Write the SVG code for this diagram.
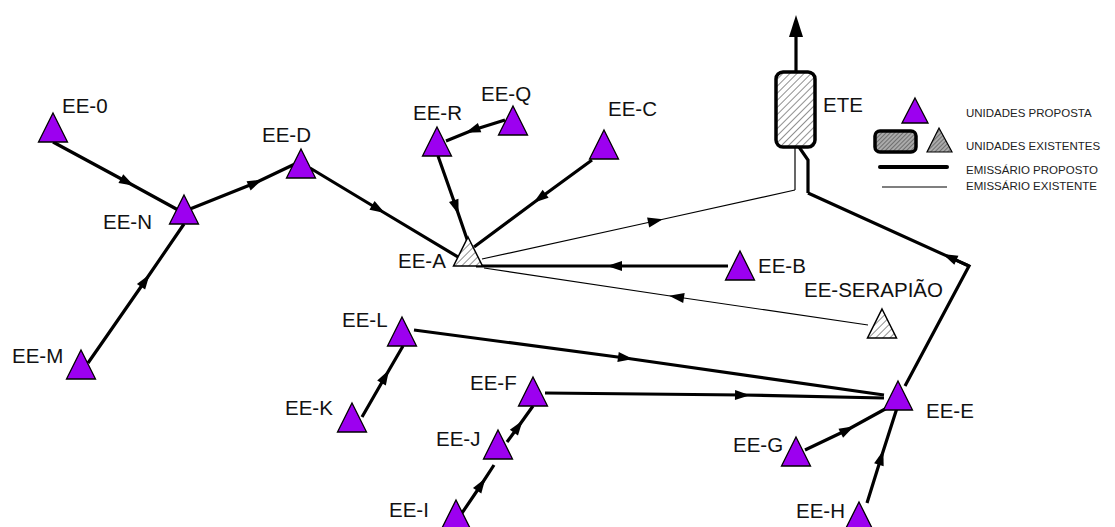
<svg xmlns="http://www.w3.org/2000/svg" width="1115" height="527" viewBox="0 0 1115 527">
<style>
  .lbl{font-family:"Liberation Sans",Arial,sans-serif;font-size:20.5px;fill:#111}
  .leg{font-family:"Liberation Sans",Arial,sans-serif;font-size:11.5px;fill:#222}
  .prop{fill:#9c00f0;stroke:#000;stroke-width:1.3;stroke-linejoin:miter}
  .exist{fill:url(#hatch);stroke:#000;stroke-width:1.5}
  .thick{fill:none;stroke:#000;stroke-width:3.2;stroke-linejoin:miter}
  .thin{fill:none;stroke:#000;stroke-width:1.2}
  .ma{marker-mid:url(#arr)}
  .mt{marker-mid:url(#arrt)}
</style>
<defs>
  <pattern id="hatch" patternUnits="userSpaceOnUse" width="5" height="5" patternTransform="rotate(45)">
    <rect width="5" height="5" fill="#fff"/>
    <line x1="0" y1="0" x2="0" y2="5" stroke="#333" stroke-width="1.1"/>
  </pattern>
  <pattern id="hatch2" patternUnits="userSpaceOnUse" width="3" height="3" patternTransform="rotate(45)">
    <rect width="3" height="3" fill="#aaa"/>
    <line x1="0" y1="0" x2="0" y2="3" stroke="#333" stroke-width="1"/>
  </pattern>
  <marker id="arr" markerUnits="userSpaceOnUse" markerWidth="16" markerHeight="12" refX="7" refY="5" orient="auto" overflow="visible">
    <path d="M0,0 L15,5 L0,10 Z" fill="#000"/>
  </marker>
  <marker id="arrt" markerUnits="userSpaceOnUse" markerWidth="16" markerHeight="12" refX="7" refY="5" orient="auto" overflow="visible">
    <path d="M0,0 L15,5 L0,10 Z" fill="#000"/>
  </marker>
  <path id="tri" d="M0,-29 L14.5,0 L-14.5,0 Z"/>
</defs>

<g id="connectors">
  <path class="thick ma" d="M53,142 L127,182 L180,211"/>
  <path class="thick ma" d="M190,209 L255,183 L297,163"/>
  <path class="thick ma" d="M310,168 L378,209 L463,260"/>
  <path class="thick ma" d="M88,363 L145,281 L184,224"/>
  <path class="thick ma" d="M438,156 L456,207 L468,242"/>
  <path class="thick ma" d="M505,120 L473,130 L446,141"/>
  <path class="thick ma" d="M592,160 L540,198 L474,247"/>
  <path class="thick ma" d="M728,266 L615,266 L476,266"/>
  <path class="thin mt" d="M482,259 L655,221 L795,190"/>
  <path class="thin" d="M795,190 L795,147"/>
  <path class="thin mt" d="M868,325 L677,297 L484,268"/>
  <path class="thick ma" d="M414,330 L625,358 L884,395"/>
  <path class="thick ma" d="M362,417 L385,377 L403,346"/>
  <path class="thick ma" d="M545,393 L742,395 L884,398"/>
  <path class="thick ma" d="M507,442 L518,427 L533,406"/>
  <path class="thick ma" d="M462,513 L481,485 L494,465"/>
  <path class="thick ma" d="M805,450 L847,430 L887,408"/>
  <path class="thick ma" d="M867,503 L881,458 L897,408"/>
  <path class="thick" d="M905,386 L969,266 L950,257.4"/>
  <path class="thick ma" d="M969,266 L950,257.4 L808,193"/>
  <path class="thick" d="M808,193 L808,160 L799,147"/>
  <path class="thick" d="M796,74 L796,34"/>
  <polygon points="796,15 789,37 803,37" fill="#000"/>
</g>

<g id="ETE">
  <rect x="776" y="72" width="39" height="75" rx="7" fill="url(#hatch)" stroke="#000" stroke-width="3.5"/>
  <text class="lbl" x="823" y="112">ETE</text>
</g>
<g id="EE-0"><use href="#tri" x="53" y="142" class="prop"/><text class="lbl" x="62" y="113">EE-0</text></g>
<g id="EE-N"><use href="#tri" x="184" y="224" class="prop"/><text class="lbl" x="103" y="229">EE-N</text></g>
<g id="EE-D"><use href="#tri" x="301" y="178" class="prop"/><text class="lbl" x="262" y="142">EE-D</text></g>
<g id="EE-M"><use href="#tri" x="81" y="379" class="prop"/><text class="lbl" x="12" y="363">EE-M</text></g>
<g id="EE-R"><use href="#tri" x="437" y="156" class="prop"/><text class="lbl" x="413" y="120">EE-R</text></g>
<g id="EE-Q"><use href="#tri" x="513" y="135" class="prop"/><text class="lbl" x="481" y="101">EE-Q</text></g>
<g id="EE-C"><use href="#tri" x="604" y="159" class="prop"/><text class="lbl" x="608" y="116">EE-C</text></g>
<g id="EE-A"><use href="#tri" x="468" y="266" class="exist"/><text class="lbl" x="398" y="268">EE-A</text></g>
<g id="EE-B"><use href="#tri" x="740" y="280" class="prop"/><text class="lbl" x="758" y="273">EE-B</text></g>
<g id="EE-SERAPIAO"><use href="#tri" x="882" y="338" class="exist"/><text class="lbl" x="804" y="297">EE-SERAPIÃO</text></g>
<g id="EE-L"><use href="#tri" x="402" y="346" class="prop"/><text class="lbl" x="342" y="327">EE-L</text></g>
<g id="EE-K"><use href="#tri" x="352" y="432" class="prop"/><text class="lbl" x="285" y="415">EE-K</text></g>
<g id="EE-F"><use href="#tri" x="533" y="406" class="prop"/><text class="lbl" x="470" y="390">EE-F</text></g>
<g id="EE-J"><use href="#tri" x="498" y="459" class="prop"/><text class="lbl" x="436" y="446">EE-J</text></g>
<g id="EE-I"><use href="#tri" x="456" y="529" class="prop"/><text class="lbl" x="389" y="517">EE-I</text></g>
<g id="EE-E"><use href="#tri" x="898" y="410" class="prop"/><text class="lbl" x="926" y="418">EE-E</text></g>
<g id="EE-G"><use href="#tri" x="796" y="466" class="prop"/><text class="lbl" x="733" y="452">EE-G</text></g>
<g id="EE-H"><use href="#tri" x="859" y="531" class="prop"/><text class="lbl" x="796" y="518">EE-H</text></g>

<g id="legend">
  <polygon points="915,98 928,123 902,123" class="prop"/>
  <text class="leg" x="966" y="117">UNIDADES PROPOSTA</text>
  <rect x="875" y="131" width="41" height="21" rx="5" fill="url(#hatch2)" stroke="#000" stroke-width="3.5"/>
  <polygon points="939,128 952,152 927,152" fill="url(#hatch2)" stroke="#000" stroke-width="1.2"/>
  <text class="leg" x="966" y="150">UNIDADES EXISTENTES</text>
  <line x1="880" y1="167" x2="947" y2="167" stroke="#000" stroke-width="4" stroke-linecap="round"/>
  <text class="leg" x="966" y="174">EMISSÁRIO PROPOSTO</text>
  <line x1="882" y1="187" x2="947" y2="187" stroke="#000" stroke-width="1.2"/>
  <text class="leg" x="966" y="190">EMISSÁRIO EXISTENTE</text>
</g>
</svg>
